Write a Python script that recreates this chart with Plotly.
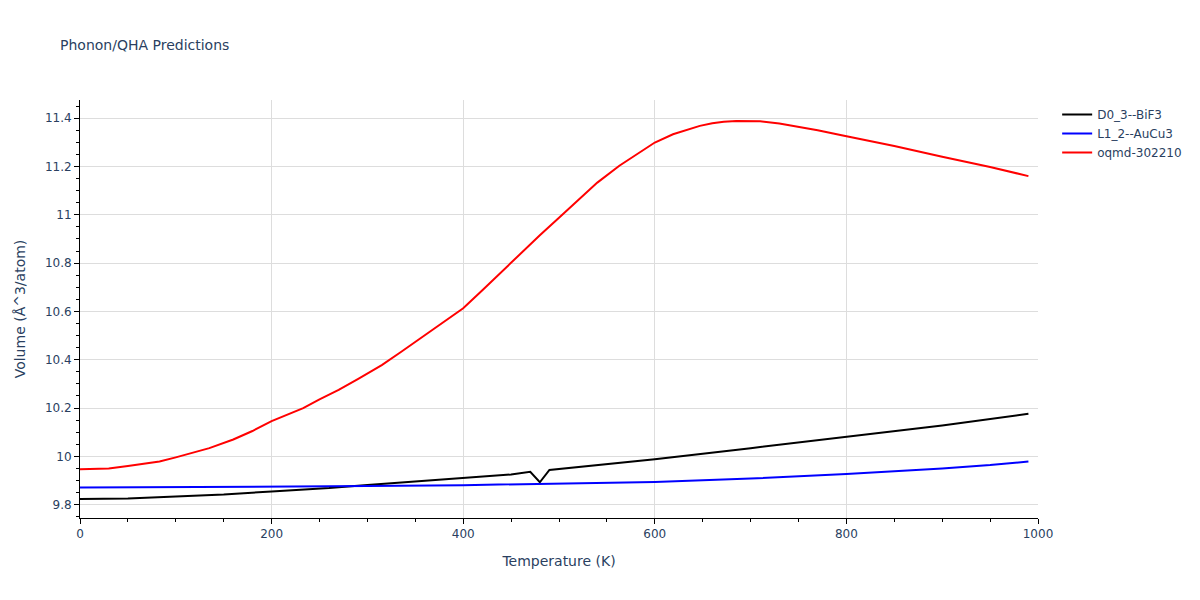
import plotly.graph_objects as go

# D0_3--BiF3
t_bif3 = [0, 50, 100, 150, 200, 240, 250, 260, 300, 350, 400, 450, 470, 480, 490, 550, 600, 700, 800, 900, 990]
v_bif3 = [9.824, 9.826, 9.834, 9.842, 9.855, 9.864, 9.865, 9.869, 9.882, 9.896, 9.910, 9.925, 9.936, 9.893, 9.944,
          9.967, 9.988, 10.034, 10.080, 10.128, 10.176]

# L1_2--AuCu3
t_aucu3 = [0, 100, 200, 300, 400, 500, 600, 700, 800, 900, 950, 990]
v_aucu3 = [9.871, 9.872, 9.874, 9.877, 9.881, 9.886, 9.894, 9.908, 9.927, 9.950, 9.964, 9.979]

# oqmd-302210
t_oqmd = [0, 20, 30, 50, 65, 83, 100, 120, 135, 160, 180, 200, 215, 233, 250, 270, 290, 315, 335, 358, 380,
          400, 420, 440, 460, 480, 500, 520, 540, 563, 585, 600, 619, 635, 647, 660, 672, 685, 700, 710, 730,
          750, 770, 795, 850, 900, 950, 990]
v_oqmd = [9.947, 9.947, 9.950, 9.960, 9.968, 9.979, 9.996, 10.016, 10.034, 10.070, 10.105, 10.146, 10.172,
          10.200, 10.236, 10.275, 10.320, 10.378, 10.432, 10.496, 10.555, 10.613, 10.688, 10.765, 10.840,
          10.915, 10.988, 11.062, 11.133, 11.203, 11.260, 11.299, 11.333, 11.354, 11.368, 11.379, 11.385,
          11.388, 11.389, 11.387, 11.378, 11.365, 11.350, 11.329, 11.285, 11.240, 11.198, 11.160]

fig = go.Figure()
fig.add_trace(go.Scatter(x=t_bif3, y=v_bif3, mode="lines", name="D0_3--BiF3",
                         line=dict(color="black", width=2)))
fig.add_trace(go.Scatter(x=t_aucu3, y=v_aucu3, mode="lines", name="L1_2--AuCu3",
                         line=dict(color="blue", width=2)))
fig.add_trace(go.Scatter(x=t_oqmd, y=v_oqmd, mode="lines", name="oqmd-302210",
                         line=dict(color="red", width=2)))

axis_style = dict(showline=True, linecolor="black", linewidth=1, ticks="outside", ticklen=5,
                  tickcolor="black", showgrid=True, gridcolor="#dddddd", zeroline=False,
                  tickfont=dict(size=12))

fig.update_layout(
    template="plotly_white",
    width=1200, height=600,
    font=dict(family="DejaVu Sans", size=12, color="#2a3f5f"),
    margin=dict(l=72, r=170, t=92, b=90),
    title=dict(text="Phonon/QHA Predictions", font=dict(size=14), x=52 / 1200, xanchor="left",
               y=1 - 37 / 600, yanchor="middle"),
    xaxis=dict(title=dict(text="Temperature (K)", font=dict(size=14)), range=[0, 1000], dtick=200,
               **axis_style),
    yaxis=dict(title=dict(text="Volume (Å^3/atom)", font=dict(size=14)), range=[9.745, 11.475], dtick=0.2,
               **axis_style),
    legend=dict(font=dict(size=12)),
)
fig.update_xaxes(minor=dict(dtick=50, ticks="outside", ticklen=3, tickcolor="black", showgrid=False))
fig.update_yaxes(minor=dict(dtick=0.05, ticks="outside", ticklen=3, tickcolor="black", showgrid=False))

fig.write_html("out.html")
